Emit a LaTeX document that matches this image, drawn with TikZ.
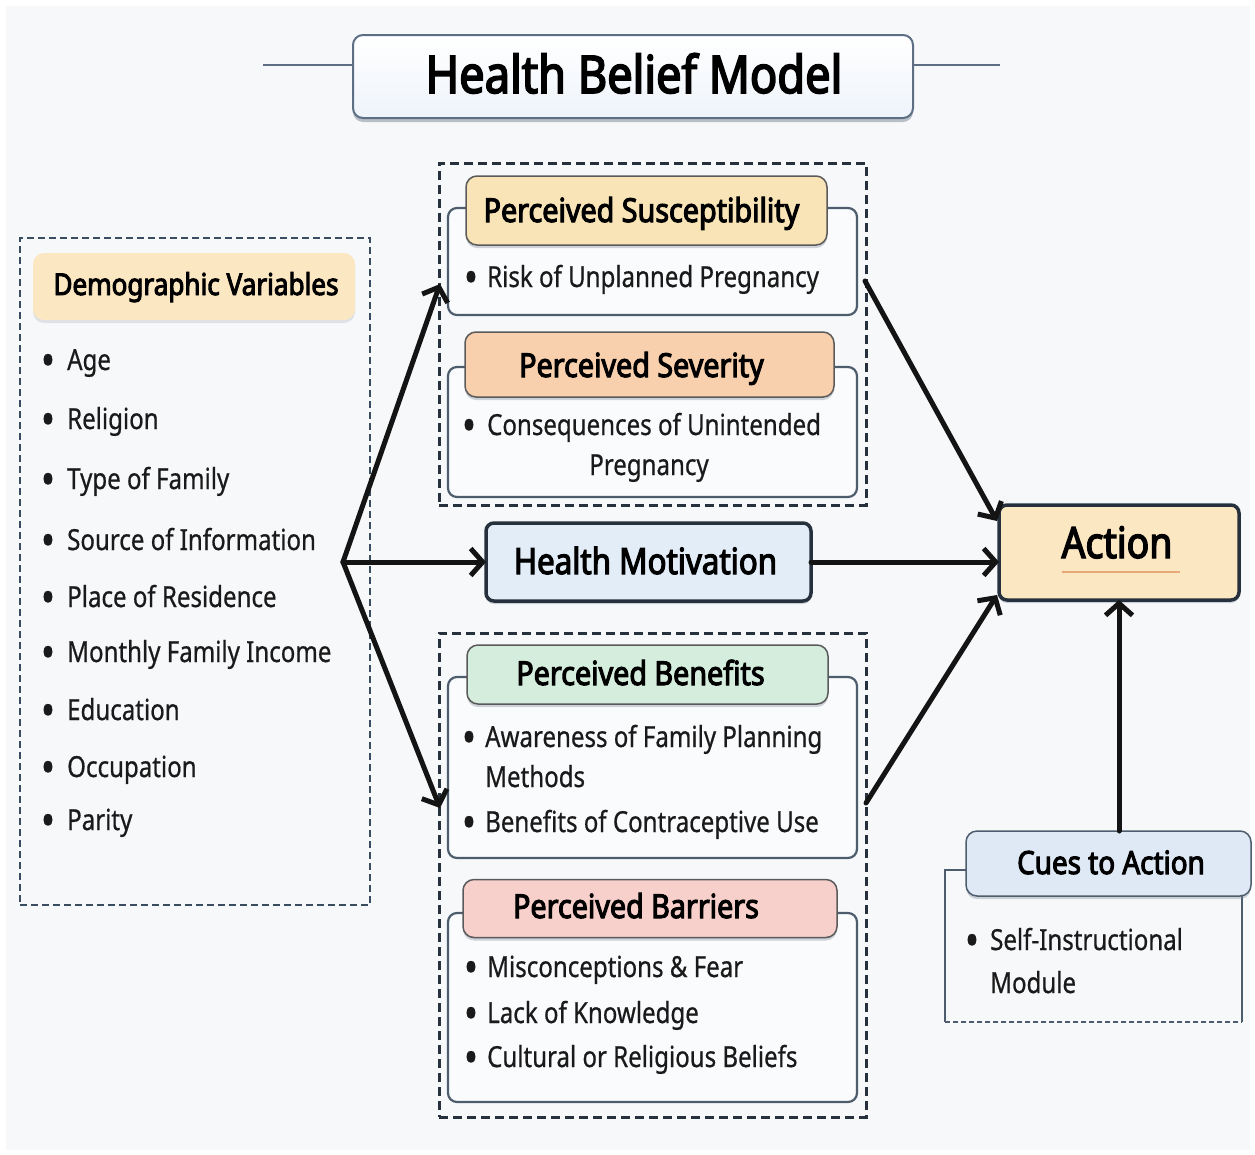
\documentclass[tikz,border=0pt]{standalone}
\usepackage{fontspec}
\setmainfont{Noto Sans}[FakeStretch=0.83, FakeBold=0.6, BoldFont={Noto Sans}, BoldFeatures={FakeBold=3.2, FakeStretch=0.87}]
\usetikzlibrary{arrows.meta,shadows,calc}
\definecolor{bg}{HTML}{F7F8FA}
\definecolor{txt}{HTML}{1A1A1A}
\definecolor{titleln}{HTML}{5C6F84}
\definecolor{bodyln}{HTML}{4D5D6E}
\definecolor{hdln}{HTML}{5A5A5A}
\definecolor{dkln}{HTML}{26313D}
\definecolor{demodash}{HTML}{3A4D60}
\definecolor{demohd}{HTML}{FBE7C2}
\definecolor{suschd}{HTML}{F9E4B7}
\definecolor{sevhd}{HTML}{F9D0AE}
\definecolor{benhd}{HTML}{D5EDDC}
\definecolor{barhd}{HTML}{F7D0CB}
\definecolor{hmfill}{HTML}{E3EDF8}
\definecolor{actfill}{HTML}{FBE8C3}
\definecolor{cuehd}{HTML}{DEE9F5}
\definecolor{bodyfill}{HTML}{FAFBFC}
\definecolor{underl}{HTML}{E9A878}
\definecolor{shad}{HTML}{7A8796}
\tikzset{
  itemtxt/.style={anchor=base west, inner sep=0pt, font=\fontsize{29}{34}\selectfont, text=txt},
  bul/.style={anchor=base, inner sep=0pt, font=\fontsize{46}{50}\selectfont, text=txt},
  ctrtxt/.style={anchor=base, inner sep=0pt, font=\fontsize{29}{34}\selectfont, text=txt},
  hdtxt/.style={anchor=base, inner sep=0pt, font=\bfseries\fontsize{33}{38}\selectfont, text=black},
  emptybox/.style={rectangle, inner sep=0pt, outer sep=0pt},
  softshadow/.style={drop shadow={shadow xshift=0pt, shadow yshift=-3pt, opacity=0.35, fill=shad}},
  dashgroup/.style={emptybox, draw=dkln, line width=3pt, dash pattern=on 9pt off 5pt},
  demogroup/.style={emptybox, draw=demodash, line width=2pt, dash pattern=on 7pt off 4pt},
  bodybox/.style={emptybox, draw=bodyln, line width=2.2pt, fill=bodyfill, rounded corners=9pt},
  hdbox/.style={emptybox, draw=hdln, line width=1.5pt, rounded corners=11pt, softshadow},
  keybox/.style={emptybox, draw=dkln, line width=3.5pt, rounded corners=8pt, softshadow},
  arr/.style={line width=5pt, draw=black!92, line cap=round, -{Straight Barb[length=12pt,width=27pt]}},
}
\newcommand\bitem[5]{%
  \node[bul] (#1b) at (#2,#4+6.5) {•};
  \node[itemtxt] (#1) at (#3,#4) {#5};}
\begin{document}
\begin{tikzpicture}[x=1pt,y=-1pt]
\useasboundingbox (0,0) rectangle (1255,1154);
\fill[white] (0,0) rectangle (1255,1154);
\fill[bg] (6,6) rectangle (1250,1150);

% ---------- title ----------
\node[emptybox, draw=titleln, line width=2pt, rounded corners=10pt, top color=white, bottom color=hmfill!60!white,
      minimum width=560pt, minimum height=83pt, drop shadow={shadow xshift=0pt, shadow yshift=-4pt, opacity=0.5, fill=shad}]
      (title) at (633,76.5) {};
\node[anchor=base, inner sep=0pt, font=\bfseries\fontsize{52}{60}\selectfont] (titletxt) at (634,93) {Health Belief Model};
\coordinate (tlL) at (263,65);
\coordinate (tlR) at (1000,65);
\draw[titleln, line width=2pt] (tlL) -- (tlL -| title.west);
\draw[titleln, line width=2pt] (tlR -| title.east) -- (tlR);

% ---------- demographic ----------
\node[demogroup, minimum width=350pt, minimum height=667pt] (demo) at (195,571.5) {};
\node[emptybox, fill=demohd, rounded corners=11pt, minimum width=322pt, minimum height=67pt,
      drop shadow={shadow xshift=0pt, shadow yshift=-3pt, opacity=0.2, fill=shad}] (demohd) at (194,286.5) {};
\node[hdtxt, font=\bfseries\fontsize{30}{36}\selectfont] (demotxt) at (196,295) {Demographic Variables};
\bitem{d1}{48}{67}{370}{Age}
\bitem{d2}{48}{67}{429}{Religion}
\bitem{d3}{48}{67}{489}{Type of Family}
\bitem{d4}{48}{67}{550}{Source of Information}
\bitem{d5}{48}{67}{607}{Place of Residence}
\bitem{d6}{48}{67}{662}{Monthly Family Income}
\bitem{d7}{48}{67}{720}{Education}
\bitem{d8}{48}{67}{777}{Occupation}
\bitem{d9}{48}{67}{830}{Parity}

% ---------- upper group ----------
\node[dashgroup, minimum width=427pt, minimum height=342pt] (upper) at (652.5,334) {};
\node[bodybox, minimum width=409pt, minimum height=107pt] (susbody) at (652.5,261.5) {};
\node[hdbox, fill=suschd, minimum width=361pt, minimum height=69pt] (sushd) at (646.5,210.5) {};
\node[hdtxt] (sustxt) at (641.5,222) {Perceived Susceptibility};
\bitem{s1}{471}{487}{287}{Risk of Unplanned Pregnancy}

\node[bodybox, minimum width=409pt, minimum height=130pt] (sevbody) at (652.5,432) {};
\node[hdbox, fill=sevhd, minimum width=369pt, minimum height=65pt] (sevhd) at (649.5,364.5) {};
\node[hdtxt] (sevtxt) at (641.5,377) {Perceived Severity};
\bitem{v1}{469}{487}{435}{Consequences of Unintended}
\node[ctrtxt] (v2) at (649,475) {Pregnancy};

% ---------- health motivation ----------
\node[keybox, fill=hmfill, minimum width=325pt, minimum height=78pt] (hm) at (648.5,562) {};
\node[hdtxt, font=\bfseries\fontsize{36}{40}\selectfont] (hmtxt) at (645.5,574) {Health Motivation};

% ---------- lower group ----------
\node[dashgroup, minimum width=427pt, minimum height=484pt] (lower) at (652.5,875) {};
\node[bodybox, minimum width=409pt, minimum height=181pt] (benbody) at (652.5,767.5) {};
\node[hdbox, fill=benhd, minimum width=361pt, minimum height=59pt] (benhd) at (647.5,674.5) {};
\node[hdtxt] (bentxt) at (640.5,685) {Perceived Benefits};
\bitem{b1}{469}{485}{747}{Awareness of Family Planning}
\node[itemtxt] (b2) at (485,787) {Methods};
\bitem{b3}{469}{485}{832}{Benefits of Contraceptive Use}

\node[bodybox, minimum width=409pt, minimum height=189pt] (barbody) at (652.5,1007.5) {};
\node[hdbox, fill=barhd, minimum width=374pt, minimum height=58pt] (barhd) at (650,908.5) {};
\node[hdtxt] (bartxt) at (636,918) {Perceived Barriers};
\bitem{r1}{471}{487}{977}{Misconceptions \& Fear}
\bitem{r2}{471}{487}{1023}{Lack of Knowledge}
\bitem{r3}{471}{487}{1067}{Cultural or Religious Beliefs}

% ---------- action ----------
\node[keybox, fill=actfill, minimum width=240pt, minimum height=95pt] (action) at (1119,552.5) {};
\node[hdtxt, font=\bfseries\fontsize{43}{48}\selectfont] (acttxt) at (1117,558) {Action};
\draw[underl, line width=2.5pt] ($(acttxt.base west)+(1,14)$) -- ($(acttxt.base east)+(7,14)$);

% ---------- cues ----------
\coordinate (cbTL) at (945,870);
\coordinate (cbBR) at (1242,1022);
\draw[bodyln, line width=1.4pt] (cbTL |- cbBR) -- (cbTL) -- (966,870);
\draw[bodyln, line width=1.4pt] (1242,896) -- (cbBR);
\draw[bodyln, line width=1.4pt, dash pattern=on 5pt off 3pt] (cbTL |- cbBR) -- (cbBR);
\node[hdbox, draw=bodyln, fill=cuehd, minimum width=285pt, minimum height=65pt] (cueshd) at (1108.5,863.5) {};
\node[hdtxt, font=\bfseries\fontsize{32}{36}\selectfont] (cuestxt) at (1111,874) {Cues to Action};
\bitem{c1}{972}{990}{950}{Self-Instructional}
\node[itemtxt] (c2) at (990,993) {Module};

% ---------- arrows ----------
\coordinate (fork) at (343,562);
\coordinate (upin) at (440,284);
\coordinate (lowin) at (440,808);
\coordinate (upout) at (865,281);
\coordinate (lowout) at (866,803);
\coordinate (actup) at (997,521);
\coordinate (actlow) at (997,595);
\draw[arr] (fork) -- (upin);
\draw[arr] (fork) -- (hm.west);
\draw[arr] (fork) -- (lowin);
\draw[arr] (upout) -- (actup);
\draw[arr] (hm.east) -- (action.west |- hm.east);
\draw[arr] (lowout) -- (actlow);
\draw[arr] (action.south |- cueshd.north) -- (action.south);
\end{tikzpicture}
\end{document}
